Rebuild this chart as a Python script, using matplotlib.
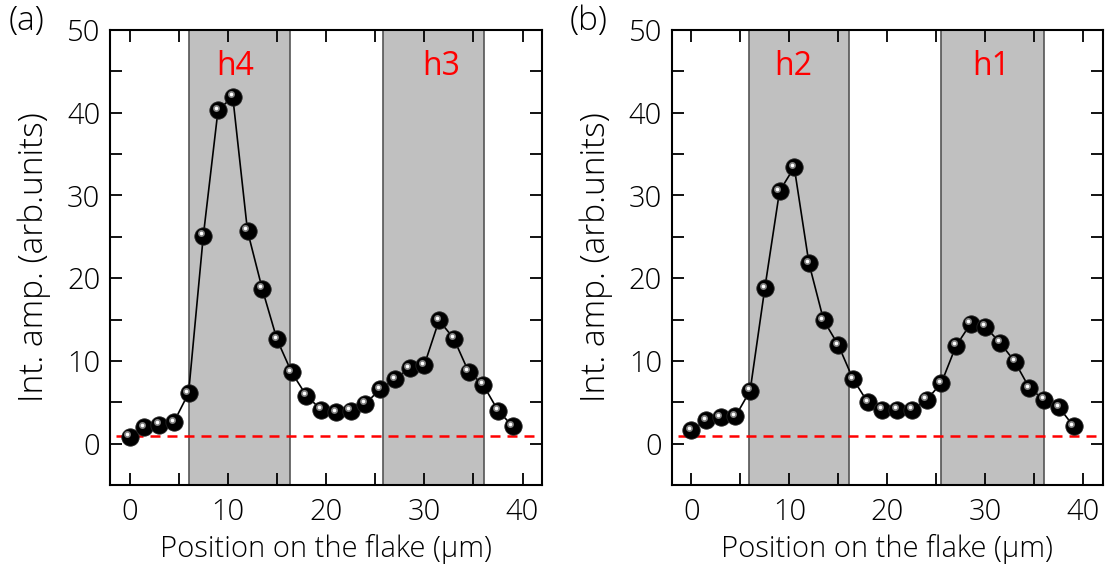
import numpy as np
import matplotlib
matplotlib.use('Agg')
import matplotlib.pyplot as plt
from matplotlib.transforms import offset_copy

plt.rcParams['font.family'] = ['Open Sans', 'DejaVu Sans']

# positions along the flake (um)
position = np.arange(27) * 1.5

amp_a = [0.85, 2.0, 2.3, 2.6, 6.1, 25.1, 40.3, 41.9, 25.7, 18.7, 12.6, 8.6, 5.8, 4.1,
         3.8, 4.0, 4.8, 6.6, 7.8, 9.1, 9.5, 14.9, 12.7, 8.7, 7.1, 4.0, 2.1]
amp_b = [1.6, 2.8, 3.2, 3.3, 6.4, 18.8, 30.5, 33.4, 21.8, 14.9, 11.9, 7.8, 5.0, 4.1,
         4.1, 4.1, 5.3, 7.3, 11.8, 14.5, 14.1, 12.2, 9.9, 6.7, 5.3, 4.4, 2.1]

baseline = 0.9

bands_a = [(6.05, 16.3, 'h4', 10.7), (25.8, 36.05, 'h3', 31.7)]
bands_b = [(5.9, 16.1, 'h2', 10.4), (25.5, 36.0, 'h1', 30.6)]

fig = plt.figure(figsize=(11.11, 5.74), dpi=100)
ax_a = fig.add_axes([0.099, 0.155, 0.389, 0.793])
ax_b = fig.add_axes([0.6046, 0.155, 0.3882, 0.793])

for ax, amp, bands, tag in [(ax_a, amp_a, bands_a, '(a)'), (ax_b, amp_b, bands_b, '(b)')]:
    for x0, x1, name, xt in bands:
        ax.axvspan(x0, x1, facecolor='#c0c0c0', edgecolor='#555555', lw=1.2, zorder=0)
        ax.text(xt, 45.6, name, color='red', fontsize=23, ha='center', va='center')
    ax.plot([-1.4, 42], [baseline, baseline], color='red', ls=(0, (4, 2.8)), lw=1.8, zorder=1)
    ax.plot(position, amp, color='black', lw=1.2, zorder=2)
    # shiny black balls
    ax.plot(position, amp, 'o', ms=12.5, mfc='black', mec='#222222', mew=0.6, zorder=3)
    hl = offset_copy(ax.transData, fig=fig, x=-1.6, y=1.8, units='points')
    ax.plot(position, amp, 'o', ms=5, mfc='#808080', mec='none', transform=hl, zorder=4)
    ax.plot(position, amp, 'o', ms=2.6, mfc='white', mec='none', transform=hl, zorder=5)

    ax.set_xlim(-2, 42)
    ax.set_ylim(-5, 50)
    ax.set_xticks([0, 10, 20, 30, 40])
    ax.set_xticks([5, 15, 25, 35], minor=True)
    ax.set_yticks([0, 10, 20, 30, 40, 50])
    ax.set_yticks([-5, 5, 15, 25, 35, 45], minor=True)
    ax.tick_params(which='both', direction='in', top=True, right=True, length=8.5, width=1.3)
    ax.tick_params(which='major', labelsize=21)
    ax.tick_params(axis='x', which='major', pad=9)
    ax.tick_params(axis='y', which='major', pad=7)
    for lab in ax.get_xticklabels() + ax.get_yticklabels():
        lab.set_fontweight('light')
    for s in ax.spines.values():
        s.set_linewidth(1.5)
    ax.set_xlabel('Position on the flake (\u00b5m)', fontsize=21, fontweight='light')
    ax.set_ylabel('Int. amp. (arb.units)', fontsize=24, fontweight='light')
    ax.xaxis.set_label_coords(0.5, -0.108)
    ax.yaxis.set_label_coords(-0.137, 0.5)
    ax.text(-0.193, 1.018, tag, transform=ax.transAxes, fontsize=24, fontweight='light',
            ha='center', va='center')

fig.savefig('out.png', dpi=100)
